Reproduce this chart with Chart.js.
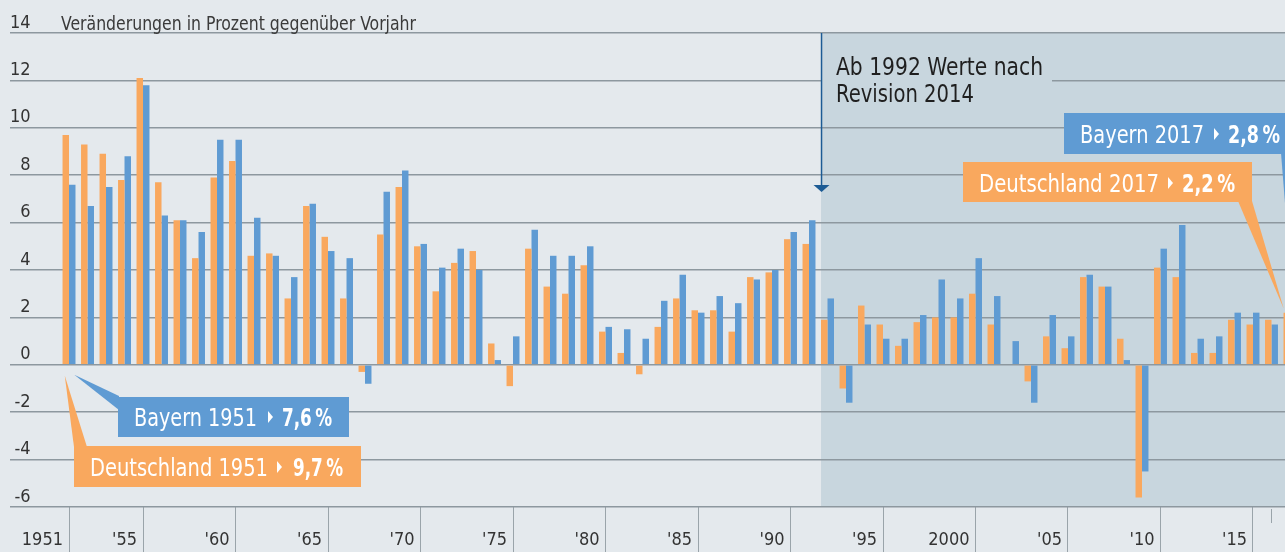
<!DOCTYPE html>
<html><head><meta charset="utf-8">
<script src="https://cdn.jsdelivr.net/npm/chart.js@4/dist/chart.umd.min.js"></script>
<style>
html,body{margin:0;padding:0;background:#e4e9ed;overflow:hidden;}
#wrap{position:relative;width:1285px;height:552px;}
</style></head><body>
<div id="wrap"><canvas id="c"></canvas></div>
<script>
// ---------- data ----------
const years = [1951,1952,1953,1954,1955,1956,1957,1958,1959,1960,
  1961,1962,1963,1964,1965,1966,1967,1968,1969,1970,
  1971,1972,1973,1974,1975,1976,1977,1978,1979,1980,
  1981,1982,1983,1984,1985,1986,1987,1988,1989,1990,
  1991,1992,1993,1994,1995,1996,1997,1998,1999,2000,
  2001,2002,2003,2004,2005,2006,2007,2008,2009,2010,
  2011,2012,2013,2014,2015,2016,2017];
const deutschland = [9.7,9.3,8.9,7.8,12.1,7.7,6.1,4.5,7.9,8.6,
  4.6,4.7,2.8,6.7,5.4,2.8,-0.3,5.5,7.5,5.0,
  3.1,4.3,4.8,0.9,-0.9,4.9,3.3,3.0,4.2,1.4,
  0.5,-0.4,1.6,2.8,2.3,2.3,1.4,3.7,3.9,5.3,
  5.1,1.9,-1.0,2.5,1.7,0.8,1.8,2.0,2.0,3.0,
  1.7,0.0,-0.7,1.2,0.7,3.7,3.3,1.1,-5.6,4.1,
  3.7,0.5,0.5,1.9,1.7,1.9,2.2];
const bayern = [7.6,6.7,7.5,8.8,11.8,6.3,6.1,5.6,9.5,9.5,
  6.2,4.6,3.7,6.8,4.8,4.5,-0.8,7.3,8.2,5.1,
  4.1,4.9,4.0,0.2,1.2,5.7,4.6,4.6,5.0,1.6,
  1.5,1.1,2.7,3.8,2.2,2.9,2.6,3.6,4.0,5.6,
  6.1,2.8,-1.6,1.7,1.1,1.1,2.1,3.6,2.8,4.5,
  2.9,1.0,-1.6,2.1,1.2,3.8,3.3,0.2,-4.5,4.9,
  5.9,1.1,1.2,2.2,2.2,1.7,2.8];
const xTickYears  = [1951,1955,1960,1965,1970,1975,1980,1985,1990,1995,2000,2005,2010,2015];
const xTickLabels = ['1951',"'55","'60","'65","'70","'75","'80","'85","'90","'95",'2000',"'05","'10","'15"];
const revisionYear = 1992;
const shortTickYear = 2016;
const titleText = 'Veränderungen in Prozent gegenüber Vorjahr';
const noteLines = ['Ab 1992 Werte nach','Revision 2014'];

// ---------- styles ----------
const FONT = "'Liberation Sans Narrow','Arial Narrow','DejaVu Sans Condensed','Liberation Sans',sans-serif";
const ORANGE = '#f9a85e', BLUE = '#5f9bd3', BG = '#e4e9ed', SHADE = '#c8d6de', GRID = '#8d989f';

Chart.defaults.font.family = FONT;

function fitText(ctx, text, x, y, w) {
  const m = ctx.measureText(text).width || 1;
  ctx.save(); ctx.translate(x, y); ctx.scale(w / m, 1); ctx.fillText(text, 0, 0); ctx.restore();
}
function tri(ctx, x, yMid) {
  ctx.beginPath(); ctx.moveTo(x, yMid - 6); ctx.lineTo(x + 5, yMid); ctx.lineTo(x, yMid + 6); ctx.closePath(); ctx.fill();
}
function labelBox(ctx, b) {
  ctx.fillStyle = b.color; ctx.fillRect(b.x, b.y, b.w, b.h);
  ctx.fillStyle = '#ffffff'; ctx.textBaseline = 'alphabetic'; ctx.textAlign = 'left';
  ctx.font = `25px ${FONT}`;
  fitText(ctx, b.text, b.tx, b.base, b.tw);
  tri(ctx, b.trix, b.base - 9);
  ctx.font = `bold 25px ${FONT}`;
  fitText(ctx, b.val, b.vx, b.base, b.vw);
}
function wedge(ctx, color, pts) {
  ctx.fillStyle = color; ctx.beginPath(); ctx.moveTo(pts[0][0], pts[0][1]);
  for (let i = 1; i < pts.length; i++) ctx.lineTo(pts[i][0], pts[i][1]);
  ctx.closePath(); ctx.fill();
}

const deco = {
  id: 'deco',
  beforeDraw(chart) {
    const {ctx, chartArea: a} = chart;
    ctx.save();
    ctx.fillStyle = BG; ctx.fillRect(0, 0, chart.width, chart.height);
    const bar = chart.getDatasetMeta(0).data[years.indexOf(revisionYear)];
    const sx = bar.x - bar.width / 2;
    ctx.fillStyle = SHADE; ctx.fillRect(sx, a.top, a.right - sx, a.bottom - a.top);
    ctx.restore();
  },
  afterDraw(chart) {
    const {ctx, chartArea: a, scales: {x, y}} = chart;
    const m0 = chart.getDatasetMeta(0), m1 = chart.getDatasetMeta(1);
    const bar = m0.data[years.indexOf(revisionYear)];
    const sx = bar.x - bar.width / 2;
    ctx.save();
    // title
    ctx.fillStyle = '#3a3a3a'; ctx.font = `20px ${FONT}`; ctx.textBaseline = 'alphabetic'; ctx.textAlign = 'left';
    fitText(ctx, titleText, 61, 30, 355);
    // short tick
    const tx = Math.round(x.getPixelForValue(shortTickYear)) + 0.5;
    ctx.strokeStyle = '#9aa4aa'; ctx.lineWidth = 1;
    ctx.beginPath(); ctx.moveTo(tx, a.bottom + 2); ctx.lineTo(tx, a.bottom + 16); ctx.stroke();
    // note cover + text
    ctx.fillStyle = SHADE; ctx.fillRect(sx + 1, 45, 1052 - sx - 1, 66);
    ctx.fillStyle = '#1f1f1f'; ctx.font = `25px ${FONT}`;
    fitText(ctx, noteLines[0], 836, 75, 207);
    fitText(ctx, noteLines[1], 836, 102, 138);
    // arrow
    ctx.strokeStyle = '#1c5b94'; ctx.lineWidth = 1.5;
    ctx.beginPath(); ctx.moveTo(sx + 0.5, a.top); ctx.lineTo(sx + 0.5, 186); ctx.stroke();
    ctx.fillStyle = '#1c5b94';
    ctx.beginPath(); ctx.moveTo(sx - 7.5, 185); ctx.lineTo(sx + 8.5, 185); ctx.lineTo(sx + 0.5, 192); ctx.closePath(); ctx.fill();
    // wedges
    const zeroY = y.getPixelForValue(0);
    const last = years.length - 1;
    wedge(ctx, ORANGE, [[m0.data[0].x - 1, zeroY + 11], [87, 447], [74, 447]]);
    wedge(ctx, BLUE, [[m1.data[0].x + 2, zeroY + 10], [119, 396], [119, 410]]);
    wedge(ctx, ORANGE, [[1238, 201], [1252, 201], [m0.data[last].x - 3, m0.data[last].y - 4]]);
    wedge(ctx, BLUE, [[1281, 153], [1300, 153], [m1.data[last].x - 1, m1.data[last].y - 4]]);
    // label boxes
    labelBox(ctx, {color: BLUE, x: 1064, y: 113, w: 240, h: 41, text: 'Bayern ' + years[last], tx: 1080, tw: 124, base: 143, trix: 1214, val: '2,8\u2009%', vx: 1228, vw: 52});
    labelBox(ctx, {color: ORANGE, x: 963, y: 162, w: 289, h: 40, text: 'Deutschland ' + years[last], tx: 979, tw: 180, base: 192, trix: 1168, val: '2,2\u2009%', vx: 1182, vw: 53});
    labelBox(ctx, {color: BLUE, x: 118, y: 397, w: 231, h: 40, text: 'Bayern ' + years[0], tx: 134, tw: 123, base: 426, trix: 268, val: '7,6\u2009%', vx: 282, vw: 50});
    labelBox(ctx, {color: ORANGE, x: 74, y: 446, w: 287, h: 41, text: 'Deutschland ' + years[0], tx: 90, tw: 178, base: 476, trix: 277, val: '9,7\u2009%', vx: 293, vw: 50});
    ctx.restore();
  }
};

new Chart(document.getElementById('c'), {
  type: 'bar',
  data: {
    datasets: [
      {label: 'Deutschland', data: years.map((yr, i) => ({x: yr, y: deutschland[i]})), backgroundColor: ORANGE, borderWidth: 0, categoryPercentage: 0.7, barPercentage: 1.0},
      {label: 'Bayern', data: years.map((yr, i) => ({x: yr, y: bayern[i]})), backgroundColor: BLUE, borderWidth: 0, categoryPercentage: 0.7, barPercentage: 1.0}
    ]
  },
  options: {
    responsive: true, maintainAspectRatio: false, animation: false, devicePixelRatio: 1,
    layout: {padding: {left: 10, top: 33, right: 0, bottom: 0}},
    plugins: {legend: {display: false}, tooltip: {enabled: false}, title: {display: false}},
    scales: {
      x: {
        type: 'linear', min: 1947.81, max: 2016.73, offset: false,
        afterBuildTicks: s => { s.ticks = xTickYears.map(v => ({value: v})); },
        afterFit: s => { s.height = 45; },
        grid: {offset: false, drawOnChartArea: false, drawTicks: true, tickLength: 45, tickColor: '#9aa4aa', tickWidth: 1},
        border: {display: false},
        ticks: {align: 'end', labelOffset: -6, padding: -22, autoSkip: false, maxRotation: 0, minRotation: 0,
          color: '#333333', font: {size: 18}, callback: (v, i) => xTickLabels[i]}
      },
      y: {
        min: -6, max: 14,
        afterFit: s => { s.width = 0; },
        grid: {color: GRID, lineWidth: 1.6, drawTicks: false},
        border: {display: false},
        ticks: {stepSize: 2, mirror: true, crossAlign: 'far', padding: 0, labelOffset: -10,
          color: '#333333', font: {size: 18}, callback: v => String(v)}
      }
    }
  },
  plugins: [deco]
});
</script>
</body></html>
